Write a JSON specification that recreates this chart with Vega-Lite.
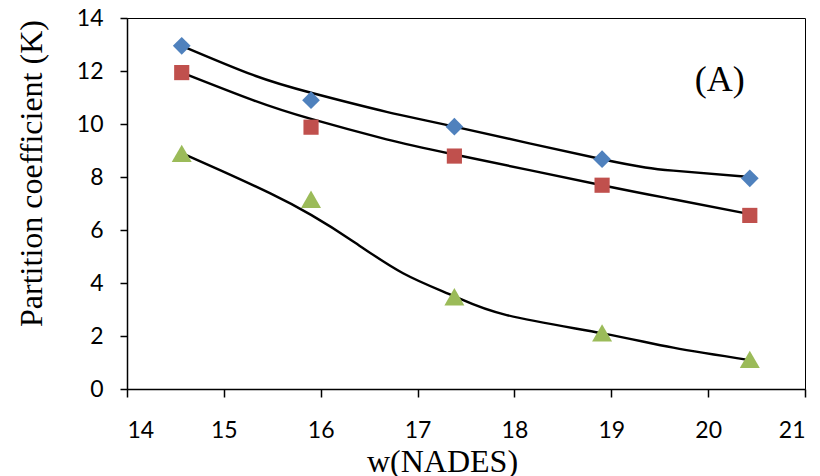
{
  "$schema": "https://vega.github.io/schema/vega-lite/v6.json",
  "width": 678,
  "height": 371,
  "autosize": {"type": "none"},
  "padding": {"left": 127, "top": 18, "right": 15, "bottom": 87},
  "background": "white",
  "config": {
    "view": {"stroke": "black", "strokeWidth": 1},
    "axis": {
      "grid": false,
      "domainColor": "black",
      "domainWidth": 1.5,
      "tickColor": "black",
      "tickWidth": 1.5,
      "labelFont": "Lato",
      "labelFontSize": 23,
      "labelColor": "black",
      "titleFont": "Liberation Serif",
      "titleFontSize": 32,
      "titleFontWeight": "normal",
      "titleColor": "black"
    }
  },
  "layer": [
    {
      "data": {
        "values": [
          {"series": "A", "x": 14.565, "y": 12.95},
          {"series": "A", "x": 15.3, "y": 11.85},
          {"series": "A", "x": 15.9, "y": 11.18},
          {"series": "A", "x": 16.68, "y": 10.46},
          {"series": "A", "x": 17.38, "y": 9.9},
          {"series": "A", "x": 18.905, "y": 8.67},
          {"series": "A", "x": 19.64, "y": 8.24},
          {"series": "A", "x": 20.43, "y": 8.0},
          {"series": "B", "x": 14.565, "y": 11.94},
          {"series": "B", "x": 15.3, "y": 10.9},
          {"series": "B", "x": 15.9, "y": 10.19},
          {"series": "B", "x": 16.68, "y": 9.42},
          {"series": "B", "x": 17.38, "y": 8.85},
          {"series": "B", "x": 18.905, "y": 7.69},
          {"series": "B", "x": 19.64, "y": 7.16},
          {"series": "B", "x": 20.43, "y": 6.6},
          {"series": "C", "x": 14.565, "y": 8.9},
          {"series": "C", "x": 14.96, "y": 8.26},
          {"series": "C", "x": 15.48, "y": 7.38},
          {"series": "C", "x": 15.9, "y": 6.57},
          {"series": "C", "x": 16.34, "y": 5.56},
          {"series": "C", "x": 16.85, "y": 4.37},
          {"series": "C", "x": 17.38, "y": 3.5},
          {"series": "C", "x": 17.92, "y": 2.79},
          {"series": "C", "x": 18.905, "y": 2.1},
          {"series": "C", "x": 19.64, "y": 1.56},
          {"series": "C", "x": 20.43, "y": 1.09}
        ]
      },
      "mark": {"type": "line", "interpolate": "natural", "color": "black", "strokeWidth": 2.4},
      "encoding": {
        "x": {
          "field": "x", "type": "quantitative",
          "scale": {"domain": [14, 21], "nice": false},
          "axis": {
            "values": [14, 15, 16, 17, 18, 19, 20, 21],
            "format": "d",
            "tickSize": 8,
            "labelPadding": 22,
            "title": "w(NADES)",
            "titleX": 315,
            "titleY": 82,
            "titleAlign": "center",
            "titleBaseline": "alphabetic"
          }
        },
        "y": {
          "field": "y", "type": "quantitative",
          "scale": {"domain": [0, 14], "nice": false},
          "axis": {
            "values": [0, 2, 4, 6, 8, 10, 12, 14],
            "format": "d",
            "tickSize": 7,
            "labelPadding": 17,
            "title": "Partition coefficient (K)",
            "titleX": -96,
            "titleY": 155,
            "titleAngle": -90,
            "titleAlign": "center",
            "titleBaseline": "middle"
          }
        },
        "detail": {"field": "series"}
      }
    },
    {
      "data": {
        "values": [
          {"series": "A", "x": 14.565, "y": 12.95},
          {"series": "A", "x": 15.9, "y": 10.9},
          {"series": "A", "x": 17.38, "y": 9.9},
          {"series": "A", "x": 18.905, "y": 8.67},
          {"series": "A", "x": 20.43, "y": 7.95},
          {"series": "B", "x": 14.565, "y": 11.94},
          {"series": "B", "x": 15.9, "y": 9.88},
          {"series": "B", "x": 17.38, "y": 8.79},
          {"series": "B", "x": 18.905, "y": 7.69},
          {"series": "B", "x": 20.43, "y": 6.55},
          {"series": "C", "x": 14.565, "y": 8.89},
          {"series": "C", "x": 15.9, "y": 7.16},
          {"series": "C", "x": 17.38, "y": 3.48},
          {"series": "C", "x": 18.905, "y": 2.12},
          {"series": "C", "x": 20.43, "y": 1.12}
        ]
      },
      "mark": {"type": "point", "filled": true, "opacity": 1},
      "encoding": {
        "x": {"field": "x", "type": "quantitative"},
        "y": {"field": "y", "type": "quantitative"},
        "shape": {
          "field": "series", "type": "nominal",
          "scale": {"domain": ["A", "B", "C"], "range": ["diamond", "square", "triangle-up"]},
          "legend": null
        },
        "color": {
          "field": "series", "type": "nominal",
          "scale": {"domain": ["A", "B", "C"], "range": ["#4F81BD", "#C0504D", "#9BBB59"]},
          "legend": null
        },
        "size": {
          "field": "series", "type": "nominal",
          "scale": {"domain": ["B", "A", "C"], "range": [230, 400]},
          "legend": null
        }
      }
    },
    {
      "data": {"values": [{"label": "(A)", "x": 20.12, "y": 11.66}]},
      "mark": {"type": "text", "font": "Liberation Serif", "fontSize": 36, "color": "black", "align": "center", "baseline": "middle"},
      "encoding": {
        "x": {"field": "x", "type": "quantitative"},
        "y": {"field": "y", "type": "quantitative"},
        "text": {"field": "label"}
      }
    }
  ]
}
